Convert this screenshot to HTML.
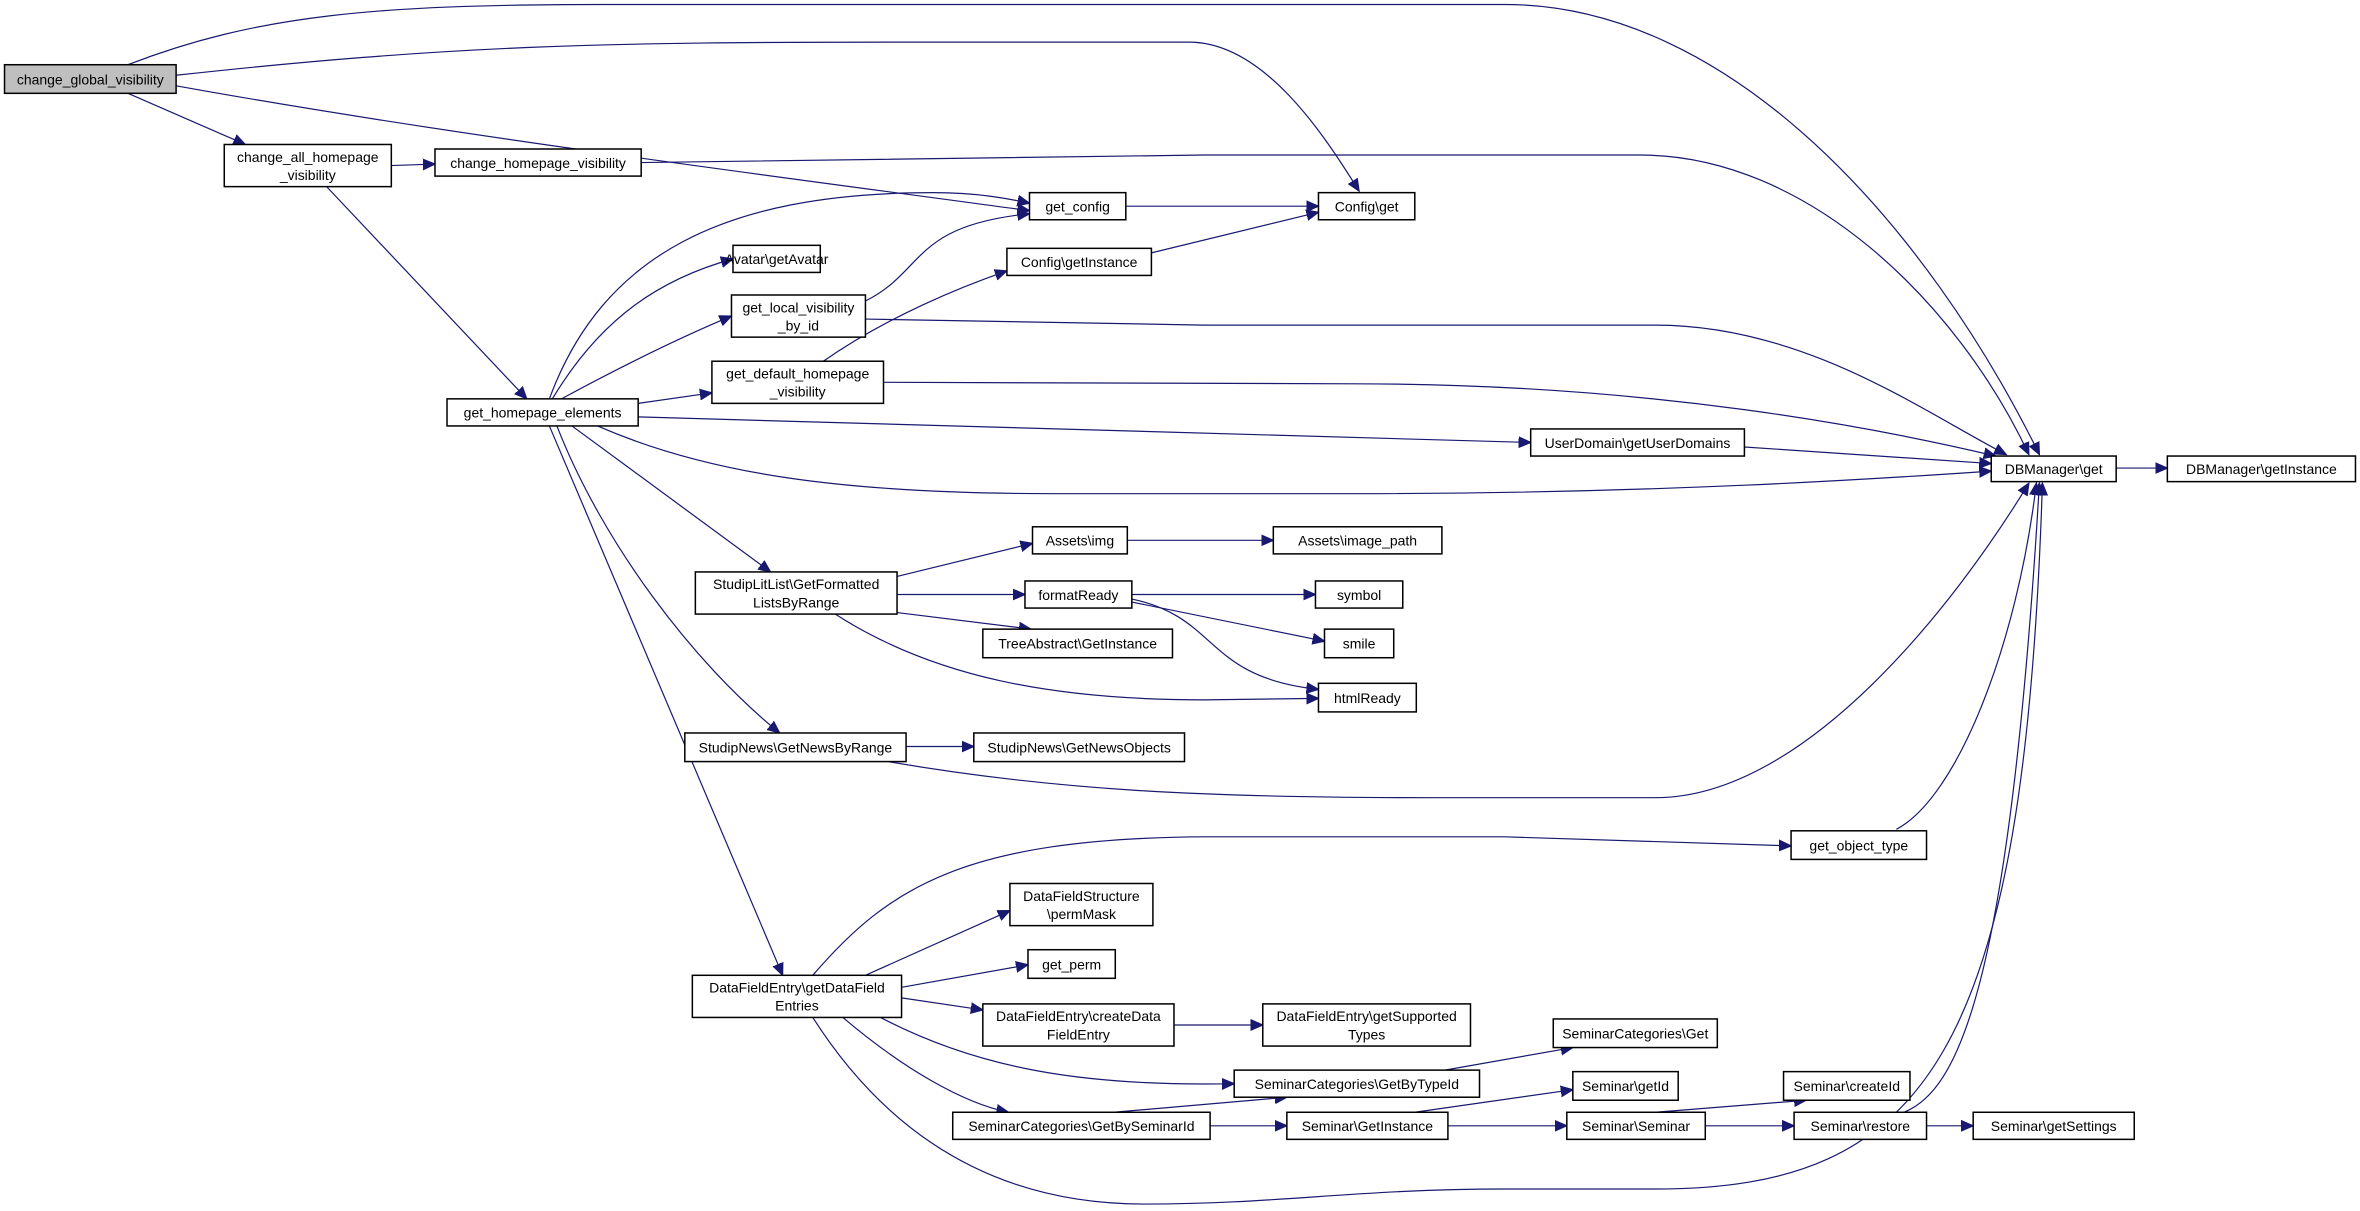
<!DOCTYPE html>
<html><head><meta charset="utf-8"><style>
html,body{margin:0;padding:0;background:#fff;}
svg{display:block;}
text{font-family:"Liberation Sans","DejaVu Sans",sans-serif;font-size:9.3px;fill:#000;text-anchor:middle;}
rect{fill:#fff;stroke:#000;stroke-width:1;}
path{fill:none;stroke:#191970;stroke-width:0.8;}
</style></head><body>
<svg width="2360" height="1211" viewBox="0 0 1568 804.6" xmlns="http://www.w3.org/2000/svg">
<defs><marker id="a" markerUnits="userSpaceOnUse" markerWidth="9" markerHeight="8" refX="8" refY="4" orient="auto"><path d="M0,0.5 L8,4 L0,7.5 Z" style="fill:#191970;stroke:#191970"/></marker></defs>
<g marker-end="url(#a)">
<path d="M85,43 C170,10 250,3 400,3 L1000,3 C1150,3 1280,150 1355,302"/>
<path d="M117,50 C300,30 400,28 600,28 L790,28 C840,28 880,90 903,127"/>
<path d="M117,57 C300,90 500,115 684,140"/>
<path d="M85,62 L163,96"/>
<path d="M260,110 L289,109"/>
<path d="M426,108 L800,103 L1090,103 C1200,103 1300,200 1348,302"/>
<path d="M217,124 L350,265"/>
<path d="M365,265 C400,170 480,128 620,128 C650,128 670,132 684,135"/>
<path d="M748,137 L876,137"/>
<path d="M367,265 C400,210 440,185 487,172"/>
<path d="M373,265 C410,245 450,225 486,210"/>
<path d="M424,268 L473,261"/>
<path d="M424,277 L1017,294"/>
<path d="M397,283 C470,315 560,328 700,328 L900,328 C1100,328 1250,318 1323,313"/>
<path d="M575,200 C615,180 605,150 684,142"/>
<path d="M575,212 L800,216 L1100,216 C1200,216 1280,275 1333,302"/>
<path d="M547,240 C590,210 640,190 669,180"/>
<path d="M765,168 L876,141"/>
<path d="M587,254 L900,255 C1100,255 1250,285 1326,303"/>
<path d="M1159,297 L1323,308"/>
<path d="M1406,311 L1440,311"/>
<path d="M380,283 L512,380"/>
<path d="M370,283 C400,360 460,440 518,487"/>
<path d="M365,283 L520,648"/>
<path d="M596,383 L686,361"/>
<path d="M749,359 L846,359"/>
<path d="M596,395 L681,395"/>
<path d="M596,407 L685,418"/>
<path d="M555,408 C620,450 700,465 800,465 L876,464"/>
<path d="M752,395 L874,395"/>
<path d="M752,400 L880,426"/>
<path d="M752,398 C810,410 800,450 876,458"/>
<path d="M602,496 L647,496"/>
<path d="M590,506 C700,525 800,530 950,530 L1100,530 C1200,530 1300,400 1348,321"/>
<path d="M540,648 C590,590 640,557 800,556 L1000,556 L1190,562"/>
<path d="M1260,551 C1300,530 1340,430 1353,321"/>
<path d="M575,648 L671,605"/>
<path d="M599,656 L683,641"/>
<path d="M599,663 L653,671"/>
<path d="M780,681 L839,681"/>
<path d="M585,676 C650,710 720,722 820,720"/>
<path d="M560,676 C600,710 640,733 670,739"/>
<path d="M540,676 C600,770 680,800 760,800 C850,800 900,790 1000,790 L1100,790 C1280,790 1345,700 1357,321"/>
<path d="M740,739 L855,729"/>
<path d="M960,711 L1045,696"/>
<path d="M804,748 L855,748"/>
<path d="M940,739 L1045,724"/>
<path d="M962,748 L1041,748"/>
<path d="M1100,739 L1200,731"/>
<path d="M1133,748 L1192,748"/>
<path d="M1280,748 L1311,748"/>
<path d="M1265,739 C1300,725 1335,660 1355,321"/>
</g>
<g>
<rect x="3" y="43" width="114" height="19" style="fill:#bfbfbf"/><text x="60" y="56">change_global_visibility</text>
<rect x="149" y="96" width="111" height="28"/><text x="204.5" y="107.5">change_all_homepage</text><text x="204.5" y="119.5">_visibility</text>
<rect x="289" y="99" width="137" height="18"/><text x="357.5" y="111.5">change_homepage_visibility</text>
<rect x="684" y="128" width="64" height="18"/><text x="716" y="140.5">get_config</text>
<rect x="876" y="128" width="64" height="18"/><text x="908" y="140.5">Config\get</text>
<rect x="487" y="163" width="58" height="18"/><text x="516" y="175.5">Avatar\getAvatar</text>
<rect x="669" y="165" width="96" height="18"/><text x="717" y="177.5">Config\getInstance</text>
<rect x="486" y="196" width="89" height="28"/><text x="530.5" y="207.5">get_local_visibility</text><text x="530.5" y="219.5">_by_id</text>
<rect x="473" y="240" width="114" height="28"/><text x="530" y="251.5">get_default_homepage</text><text x="530" y="263.5">_visibility</text>
<rect x="297" y="265" width="127" height="18"/><text x="360.5" y="277.5">get_homepage_elements</text>
<rect x="1017" y="285" width="142" height="18"/><text x="1088" y="297.5">UserDomain\getUserDomains</text>
<rect x="1323" y="303" width="83" height="17"/><text x="1364.5" y="315">DBManager\get</text>
<rect x="1440" y="303" width="125" height="17"/><text x="1502.5" y="315">DBManager\getInstance</text>
<rect x="686" y="350" width="63" height="18"/><text x="717.5" y="362.5">Assets\img</text>
<rect x="846" y="350" width="112" height="18"/><text x="902" y="362.5">Assets\image_path</text>
<rect x="462" y="380" width="134" height="28"/><text x="529" y="391.5">StudipLitList\GetFormatted</text><text x="529" y="403.5">ListsByRange</text>
<rect x="681" y="386" width="71" height="18"/><text x="716.5" y="398.5">formatReady</text>
<rect x="874" y="386" width="58" height="18"/><text x="903" y="398.5">symbol</text>
<rect x="880" y="418" width="46" height="19"/><text x="903" y="431">smile</text>
<rect x="653" y="418" width="126" height="19"/><text x="716" y="431">TreeAbstract\GetInstance</text>
<rect x="876" y="454" width="65" height="19"/><text x="908.5" y="467">htmlReady</text>
<rect x="455" y="487" width="147" height="19"/><text x="528.5" y="500">StudipNews\GetNewsByRange</text>
<rect x="647" y="487" width="140" height="19"/><text x="717" y="500">StudipNews\GetNewsObjects</text>
<rect x="1190" y="552" width="90" height="19"/><text x="1235" y="565">get_object_type</text>
<rect x="671" y="587" width="95" height="28"/><text x="718.5" y="598.5">DataFieldStructure</text><text x="718.5" y="610.5">\permMask</text>
<rect x="683" y="631" width="58" height="19"/><text x="712" y="644">get_perm</text>
<rect x="460" y="648" width="139" height="28"/><text x="529.5" y="659.5">DataFieldEntry\getDataField</text><text x="529.5" y="671.5">Entries</text>
<rect x="653" y="667" width="127" height="28"/><text x="716.5" y="678.5">DataFieldEntry\createData</text><text x="716.5" y="690.5">FieldEntry</text>
<rect x="839" y="667" width="138" height="28"/><text x="908" y="678.5">DataFieldEntry\getSupported</text><text x="908" y="690.5">Types</text>
<rect x="1032" y="677" width="109" height="19"/><text x="1086.5" y="690">SeminarCategories\Get</text>
<rect x="820" y="711" width="163" height="18"/><text x="901.5" y="723.5">SeminarCategories\GetByTypeId</text>
<rect x="1045" y="712" width="70" height="19"/><text x="1080" y="725">Seminar\getId</text>
<rect x="1185" y="712" width="84" height="19"/><text x="1227" y="725">Seminar\createId</text>
<rect x="633" y="739" width="171" height="18"/><text x="718.5" y="751.5">SeminarCategories\GetBySeminarId</text>
<rect x="855" y="739" width="107" height="18"/><text x="908.5" y="751.5">Seminar\GetInstance</text>
<rect x="1041" y="739" width="92" height="18"/><text x="1087" y="751.5">Seminar\Seminar</text>
<rect x="1192" y="739" width="88" height="18"/><text x="1236" y="751.5">Seminar\restore</text>
<rect x="1311" y="739" width="107" height="18"/><text x="1364.5" y="751.5">Seminar\getSettings</text>
</g>
</svg>
</body></html>
